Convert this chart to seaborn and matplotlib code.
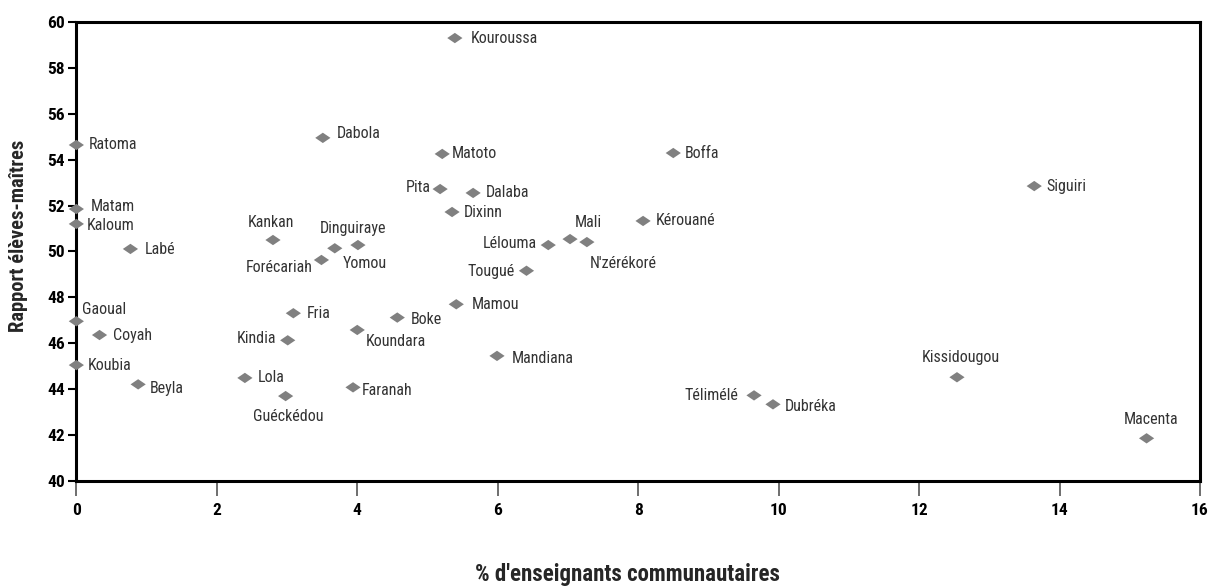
import numpy as np
import pandas as pd
import matplotlib
matplotlib.use("Agg")
import matplotlib.pyplot as plt
from matplotlib import font_manager
from matplotlib.path import Path
import seaborn as sns

# ---- data ----
prefectures = ["Kouroussa", "Ratoma", "Dabola", "Matoto", "Boffa", "Siguiri", "Pita", "Dalaba",
               "Dixinn", "Kérouané", "Matam", "Kaloum", "Mali", "N'zérékoré", "Lélouma", "Labé",
               "Kankan", "Dinguiraye", "Yomou", "Forécariah", "Tougué", "Mamou", "Boke", "Fria",
               "Koundara", "Kindia", "Gaoual", "Coyah", "Koubia", "Beyla", "Lola", "Guéckédou",
               "Faranah", "Mandiana", "Télimélé", "Dubréka", "Kissidougou", "Macenta"]
pct_communautaires = [5.39, 0.00, 3.51, 5.21, 8.50, 13.64, 5.18, 5.65,
                      5.35, 8.07, 0.00, 0.00, 7.03, 7.27, 6.72, 0.77,
                      2.80, 4.01, 3.68, 3.49, 6.41, 5.41, 4.57, 3.09,
                      4.00, 3.01, 0.00, 0.33, 0.00, 0.88, 2.40, 2.98,
                      3.94, 5.99, 9.65, 9.92, 12.54, 15.24]
rapport_eleves_maitres = [59.30, 54.64, 54.95, 54.25, 54.29, 52.85, 52.72, 52.55,
                          51.72, 51.33, 51.85, 51.20, 50.54, 50.41, 50.28, 50.11,
                          50.50, 50.28, 50.14, 49.63, 49.16, 47.70, 47.12, 47.31,
                          46.58, 46.13, 46.96, 46.36, 45.05, 44.21, 44.49, 43.70,
                          44.08, 45.45, 43.73, 43.34, 44.52, 41.86]
x_ticks = [0, 2, 4, 6, 8, 10, 12, 14, 16]
y_ticks = [40, 42, 44, 46, 48, 50, 52, 54, 56, 58, 60]
x_label = "% d'enseignants communautaires"
y_label = "Rapport élèves-maîtres"

# ---- label layout (pixel offsets, alignment) ----
default_off = (12, 0, "left")
label_layout = {
    "Kouroussa": (16, 0, "left"), "Ratoma": (12, 0, "left"), "Dabola": (14, 4, "left"),
    "Matoto": (10, 0, "left"), "Boffa": (11, 0, "left"), "Siguiri": (12, 0, "left"),
    "Pita": (-9, 2, "right"), "Dalaba": (13, 0, "left"), "Dixinn": (12, 0, "left"),
    "Kérouané": (13, 0, "left"), "Matam": (14, 3, "left"), "Kaloum": (10, -2, "left"),
    "Mali": (18, 17, "center"), "N'zérékoré": (36, -21, "center"), "Lélouma": (-11, 2, "right"),
    "Labé": (14, -1, "left"), "Kankan": (-2, 18, "center"), "Dinguiraye": (-5, 17, "center"),
    "Yomou": (8, -15, "left"), "Forécariah": (-9, -8, "right"), "Tougué": (-12, -1, "right"),
    "Mamou": (15, 0, "left"), "Boke": (13, -2, "left"), "Fria": (13, 0, "left"),
    "Koundara": (8, -12, "left"), "Kindia": (-11, 2, "right"), "Gaoual": (6, 12, "left"),
    "Coyah": (13, 0, "left"), "Koubia": (11, 0, "left"), "Beyla": (12, -4, "left"),
    "Lola": (13, 0, "left"), "Guéckédou": (3, -20, "center"), "Faranah": (9, -3, "left"),
    "Mandiana": (15, -3, "left"), "Télimélé": (-16, 0, "right"), "Dubréka": (12, -2, "left"),
    "Kissidougou": (4, 20, "center"), "Macenta": (4, 19, "center"),
}

# ---- fonts ----
def pick_font(cands):
    for c in cands:
        try:
            font_manager.findfont(font_manager.FontProperties(family=c), fallback_to_default=False)
            return c
        except Exception:
            continue
    return "DejaVu Sans"

sns.set_theme(style="white")
fam = pick_font(["Liberation Sans Narrow", "DejaVu Sans Condensed", "Roboto Condensed", "Liberation Sans"])
plt.rcParams["font.family"] = [fam, "DejaVu Sans"]

df = pd.DataFrame({"pref": prefectures, "x": pct_communautaires, "y": rapport_eleves_maitres})

fig = plt.figure(figsize=(12.10, 5.86), dpi=100)
ax = fig.add_axes([0.0631, 0.1792, 0.9286, 0.7833])

diamond = Path([(-1, 0), (0, 0.68), (1, 0), (0, -0.68), (-1, 0)],
               [Path.MOVETO, Path.LINETO, Path.LINETO, Path.LINETO, Path.CLOSEPOLY])
sns.scatterplot(data=df, x="x", y="y", ax=ax, marker=diamond, s=120, color="#808080",
                edgecolor="none", linewidth=0, zorder=3, clip_on=False)

for name, xv, yv in zip(prefectures, pct_communautaires, rapport_eleves_maitres):
    dx, dy, ha = label_layout.get(name, default_off)
    ax.annotate(name, (xv, yv), xytext=(dx, dy), textcoords="offset pixels",
                ha=ha, va="center", fontsize=11.5, color="#333333", zorder=4)

ax.set_xlim(0, 16)
ax.set_ylim(40, 60)
ax.set_xticks(x_ticks)
ax.set_yticks(y_ticks)
ax.set_xticklabels([str(t) for t in x_ticks], fontweight="bold", fontsize=12.5, color="black")
ax.set_yticklabels([str(t) for t in y_ticks], fontweight="bold", fontsize=12.5, color="black")
ax.tick_params(axis="x", which="major", direction="out", length=11, width=1.2,
               color="#555555", pad=5, bottom=True)
ax.tick_params(axis="y", which="major", direction="out", length=6, width=1.5,
               color="black", pad=2, left=True)

for sp in ax.spines.values():
    sp.set_visible(True)
    sp.set_color("black")
    sp.set_linewidth(2.2)

ax.set_xlabel(x_label, fontweight="bold", fontsize=16.5)
ax.set_ylabel(y_label, fontweight="bold", fontsize=14.8)
ax.xaxis.set_label_coords(0.4905, -0.179)
ax.yaxis.set_label_coords(-0.043, 0.534)
ax.grid(False)

fig.savefig("out.png", dpi=100, facecolor="white")
